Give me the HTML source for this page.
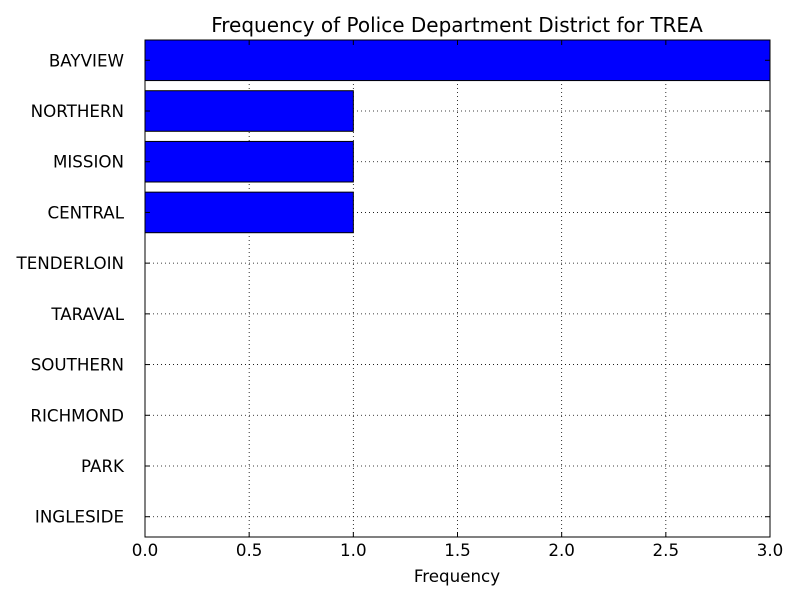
<!DOCTYPE html>
<html><head><meta charset="utf-8"><style>
body{margin:0;background:#fff;}
svg text{font-family:"DejaVu Sans","Liberation Sans",sans-serif;}
</style></head><body>
<svg id="chart" width="800" height="600" viewBox="0 0 800 600" xmlns="http://www.w3.org/2000/svg">
<rect width="800" height="600" fill="#fff"/>
<text x="457" y="32" text-anchor="middle" font-size="20">Frequency of Police Department District for TREA</text>
<g id="grid"></g><g id="bars"></g><g id="axes"></g>
<text x="457" y="582" text-anchor="middle" font-size="16.7">Frequency</text>
</svg>
<script>
const categories = ["BAYVIEW","NORTHERN","MISSION","CENTRAL","TENDERLOIN","TARAVAL","SOUTHERN","RICHMOND","PARK","INGLESIDE"];
const values = [3,1,1,1,0,0,0,0,0,0];
const xTicks = [0,0.5,1,1.5,2,2.5,3];
const xTickLabels = ["0.0","0.5","1.0","1.5","2.0","2.5","3.0"];
const NS="http://www.w3.org/2000/svg";
const L=145,R=770,T=40,B=537,xmax=3;
const x=v=>L+(v/xmax)*(R-L);
const slot=(B-T)/(categories.length-0.2);
const yc=i=>T+0.4*slot+i*slot;
function mk(tag,attrs,parent){const e=document.createElementNS(NS,tag);for(const k in attrs)e.setAttribute(k,attrs[k]);parent.appendChild(e);return e;}
const grid=document.getElementById('grid'),bars=document.getElementById('bars'),axes=document.getElementById('axes');
xTicks.forEach((t,i)=>{
  const gl=mk('line',{x1:x(t),x2:x(t),y1:T,y2:B,stroke:'#000','stroke-width':0.8,'stroke-dasharray':'1,3'},grid);
  
  
  mk('line',{x1:x(t),x2:x(t),y1:B,y2:B-5,stroke:'#000'},axes);
  mk('line',{x1:x(t),x2:x(t),y1:T,y2:T+5,stroke:'#000'},axes);
  const tl=mk('text',{x:x(t),y:B+19,'text-anchor':'middle','font-size':16.7},axes);
  tl.textContent=xTickLabels[i];
  
  
});
categories.forEach((c,i)=>{
  const y=yc(i);
  const gl=mk('line',{x1:L,x2:R,y1:y,y2:y,stroke:'#000','stroke-width':0.8,'stroke-dasharray':'1,3'},grid);
  
  
  const b=mk('rect',{x:L,y:y-0.4*slot,width:x(values[i])-L,height:0.8*slot,fill:'#0000ff',stroke:'#000','stroke-width':1},bars);
  
  
  mk('line',{x1:L,x2:L+5,y1:y,y2:y,stroke:'#000'},axes);
  mk('line',{x1:R,x2:R-5,y1:y,y2:y,stroke:'#000'},axes);
  const tl=mk('text',{x:L-21,y:y+6,'text-anchor':'end','font-size':16.7},axes);
  tl.textContent=c;
  
  
});
const fr=mk('rect',{x:L,y:T,width:R-L,height:B-T,fill:'none',stroke:'#000','stroke-width':1},axes);


</script>
</body></html>
